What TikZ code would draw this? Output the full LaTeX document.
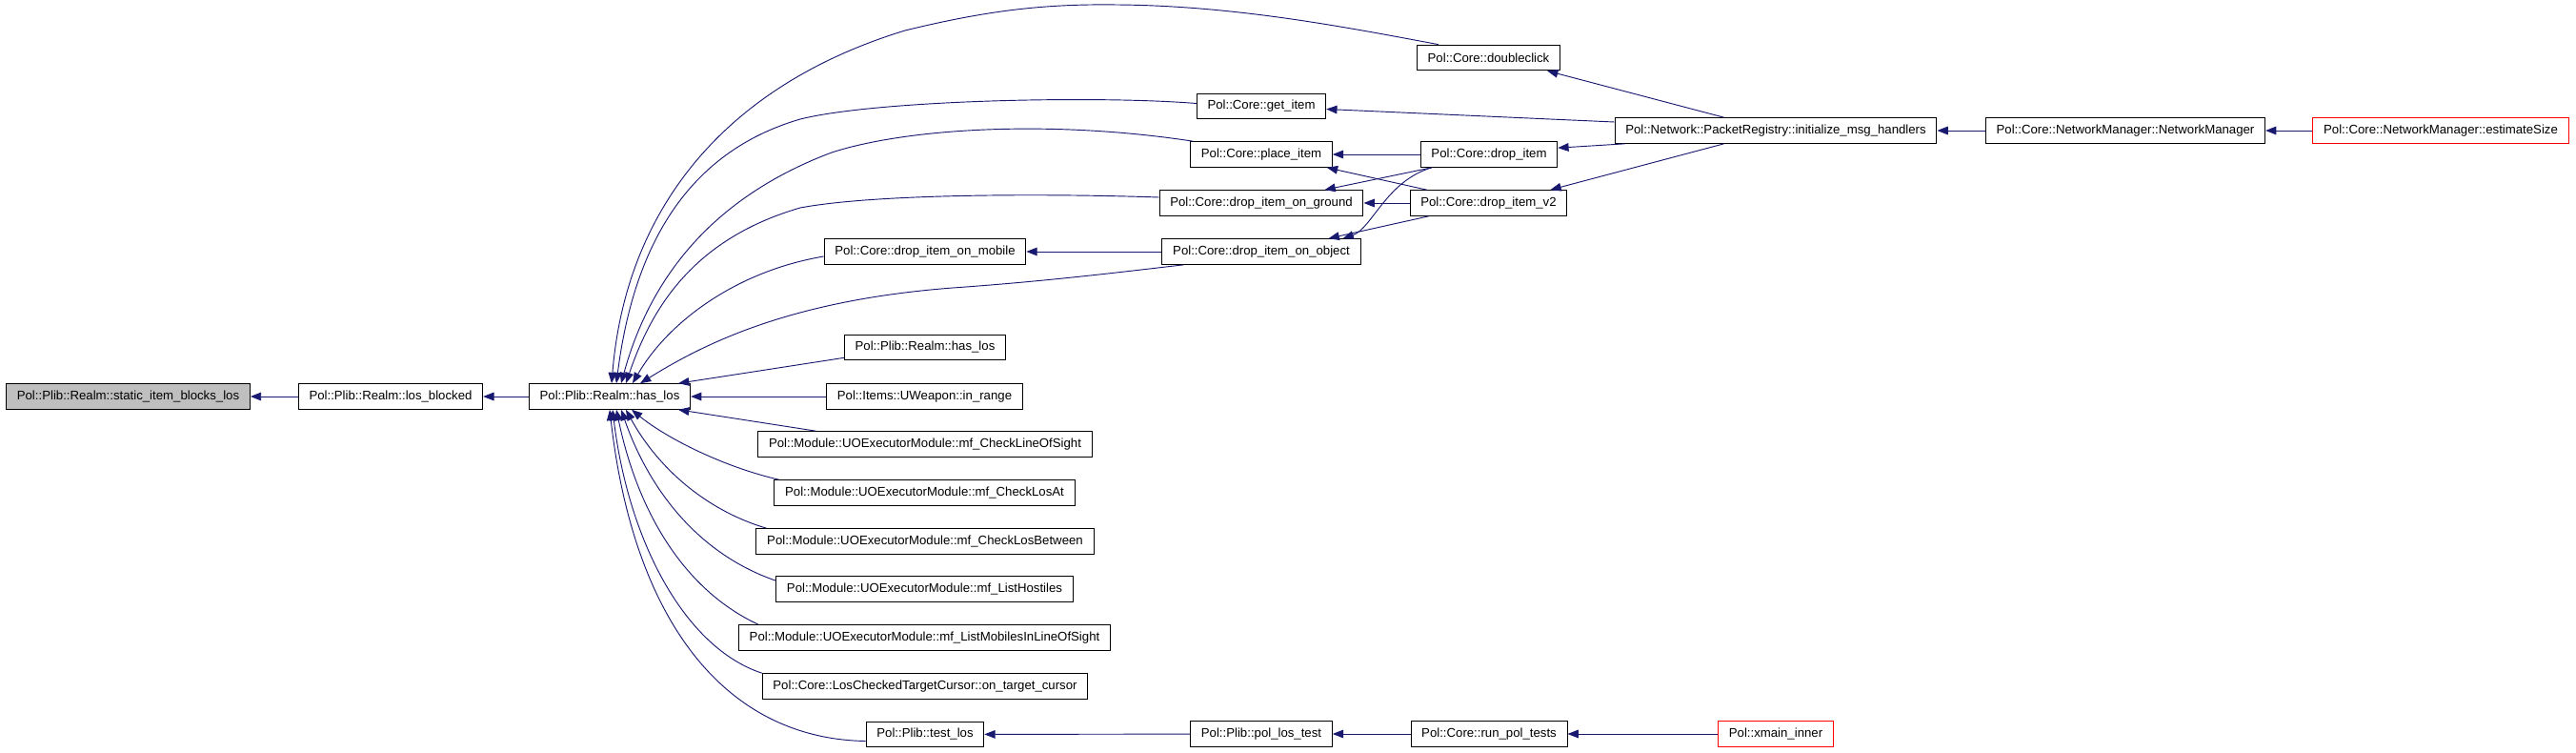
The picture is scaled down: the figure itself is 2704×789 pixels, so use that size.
\documentclass[tikz,border=0pt]{standalone}
\usepackage{fontspec}
\setmainfont{Liberation Sans}
\usetikzlibrary{arrows.meta,calc}
\definecolor{edgeblue}{HTML}{191970}
\definecolor{nodegray}{HTML}{BFBFBF}

\begin{document}
\begin{tikzpicture}[x=0.75pt,y=-0.75pt,
    fn/.style={draw,rectangle,line width=0.75pt,minimum height=20pt,inner xsep=8.4pt,inner ysep=0pt,font=\fontsize{9.9}{11}\selectfont},
    fnred/.style={fn,draw=red},
    calledge/.style={<-,draw=edgeblue,line width=0.7pt},
    >={Triangle[length=8.5pt,width=6.5pt]}]
    \useasboundingbox (0,0) rectangle (2704,789);

    % the function and the ones that call it
    \node[fn,fill=nodegray] (sibl) at (134.5,416) {Pol::Plib::Realm::static\_item\_blocks\_los};
    \node[fn] (losb) at (410,416) {Pol::Plib::Realm::los\_blocked};
    \node[fn] (hasl) at (640,416) {Pol::Plib::Realm::has\_los};

    \node[fn] (dblc) at (1562.5,60.5) {Pol::Core::doubleclick};
    \node[fn] (getit) at (1324,111.5) {Pol::Core::get\_item};
    \node[fn] (placeit) at (1324,162) {Pol::Core::place\_item};
    \node[fn] (dropit) at (1563,162) {Pol::Core::drop\_item};
    \node[fn] (dground) at (1324,213) {Pol::Core::drop\_item\_on\_ground};
    \node[fn] (dv2) at (1562.5,213) {Pol::Core::drop\_item\_v2};
    \node[fn] (dmobile) at (971,264) {Pol::Core::drop\_item\_on\_mobile};
    \node[fn] (dobject) at (1324,264) {Pol::Core::drop\_item\_on\_object};
    \node[fn] (pktreg) at (1864,137) {Pol::Network::PacketRegistry::initialize\_msg\_handlers};
    \node[fn] (netmgr) at (2231,137) {Pol::Core::NetworkManager::NetworkManager};
    \node[fnred] (estsize) at (2562,137) {Pol::Core::NetworkManager::estimateSize};

    \node[fn] (hasl2) at (971,364.5) {Pol::Plib::Realm::has\_los};
    \node[fn] (inrange) at (970.5,416) {Pol::Items::UWeapon::in\_range};
    \node[fn] (chkline) at (971,466) {Pol::Module::UOExecutorModule::mf\_CheckLineOfSight};
    \node[fn] (chkat) at (970.5,517) {Pol::Module::UOExecutorModule::mf\_CheckLosAt};
    \node[fn] (chkbetw) at (971,568) {Pol::Module::UOExecutorModule::mf\_CheckLosBetween};
    \node[fn] (listhost) at (970.5,618) {Pol::Module::UOExecutorModule::mf\_ListHostiles};
    \node[fn] (listmob) at (970.5,669) {Pol::Module::UOExecutorModule::mf\_ListMobilesInLineOfSight};
    \node[fn] (loscur) at (971,720) {Pol::Core::LosCheckedTargetCursor::on\_target\_cursor};
    \node[fn] (testlos) at (971,770.5) {Pol::Plib::test\_los};
    \node[fn] (poltest) at (1324,770) {Pol::Plib::pol\_los\_test};
    \node[fn] (runtests) at (1563,770) {Pol::Core::run\_pol\_tests};
    \node[fnred] (xmain) at (1864,770) {Pol::xmain\_inner};

    % straight calls
    \draw[calledge] (sibl) -- (losb);
    \draw[calledge] (losb) -- (hasl);
    \draw[calledge] (hasl) -- (inrange);
    \draw[calledge] (dmobile) -- (dobject);
    \draw[calledge] (placeit) -- (dropit);
    \draw[calledge] (dground) -- (dv2);
    \draw[calledge] (pktreg) -- (netmgr);
    \draw[calledge] (netmgr) -- (estsize);
    \draw[calledge] (testlos) -- (poltest);
    \draw[calledge] (poltest) -- (runtests);
    \draw[calledge] (runtests) -- (xmain);

    % fan into has_los from above
    \draw[calledge] ($(hasl.north)+(2,0)$) .. controls (657,220) and (760,90) .. (950,32)
        .. controls (1040,10) and (1100,4) .. (1173,5)
        .. controls (1300,6) and (1420,30) .. ($(dblc.north west)+(23,0)$);
    \draw[calledge] ($(hasl.north)+(7,0)$) .. controls (665,260) and (720,160) .. (840,125)
        .. controls (920,105) and (1150,100) .. ($(getit.west)+(0,-3)$);
    \draw[calledge] ($(hasl.north)+(12,0)$) .. controls (680,300) and (740,210) .. (873,160)
        .. controls (950,135) and (1100,125) .. ($(placeit.north west)+(3,0)$);
    \draw[calledge] ($(hasl.north)+(17,0)$) .. controls (685,320) and (730,250) .. (840,218)
        .. controls (920,203) and (1100,203) .. ($(dground.west)+(0,-6)$);
    \draw[calledge] ($(hasl.north)+(24,0)$) .. controls (700,340) and (770,285) .. ($(dmobile.west)+(0,5)$);
    \draw[calledge] ($(hasl.north)+(32,0)$) .. controls (740,360) and (830,315) .. (1000,302)
        .. controls (1100,295) and (1180,285) .. ($(dobject.south west)+(23,0)$);
    \draw[calledge] ($(hasl.north east)+(-13,0)$) -- ($(hasl2.south west)+(0,-3)$);

    % fan into has_los from below
    \draw[calledge] ($(hasl.south east)+(-13,0)$) -- ($(chkline.north west)+(61,0)$);
    \draw[calledge] ($(hasl.south)+(23,0)$) .. controls (700,460) and (760,490) .. ($(chkat.north west)+(5,0)$);
    \draw[calledge] ($(hasl.south)+(17,0)$) .. controls (690,490) and (740,535) .. ($(chkbetw.north west)+(11,0)$);
    \draw[calledge] ($(hasl.south)+(12,0)$) .. controls (680,510) and (730,580) .. ($(listhost.north west)+(0,5)$);
    \draw[calledge] ($(hasl.south)+(7,0)$) .. controls (670,540) and (720,620) .. ($(listmob.north west)+(21,0)$);
    \draw[calledge] ($(hasl.south)+(3,0)$) .. controls (660,570) and (720,680) .. (loscur.north west);
    \draw[calledge] (hasl.south) .. controls (665,650) and (760,775) .. ($(testlos.west)+(0,7)$);

    % calls among the item functions
    \draw[calledge] ($(dblc.south east)+(-14,0)$) -- ($(pktreg.north west)+(115,0)$);
    \draw[calledge] ($(getit.east)+(0,3)$) -- ($(pktreg.west)+(0,-9)$);
    \draw[calledge] ($(dropit.north east)+(0,7)$) -- ($(pktreg.south west)+(11,0)$);
    \draw[calledge] ($(dv2.north east)+(-18,0)$) -- ($(pktreg.south west)+(115,0)$);
    \draw[calledge] ($(dground.north east)+(-41,0)$) -- ($(dropit.south west)+(12,0)$);
    \draw[calledge] ($(dobject.north east)+(-19,0)$) .. controls (1440,240) and (1455,190) .. ($(dropit.south west)+(12,0)$);
    \draw[calledge] ($(placeit.south east)+(-6,0)$) -- ($(dv2.north west)+(18,0)$);
    \draw[calledge] ($(dobject.north east)+(-34,0)$) -- ($(dv2.south west)+(20,0)$);
\end{tikzpicture}
\end{document}
